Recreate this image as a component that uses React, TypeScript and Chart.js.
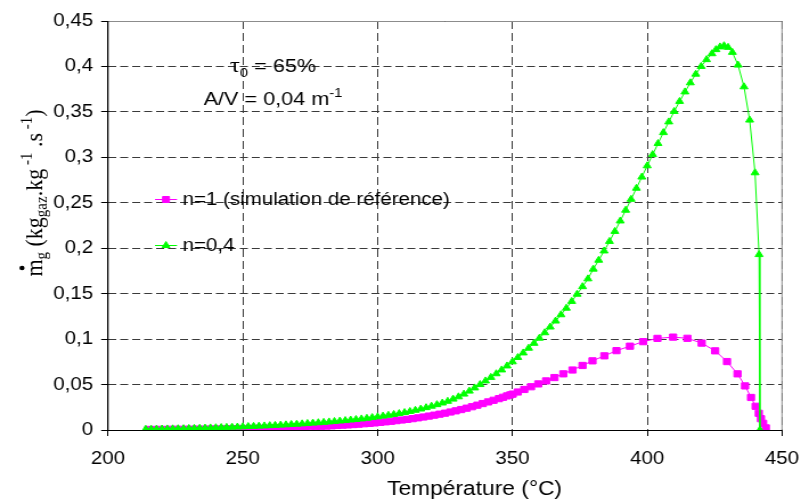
import { useEffect, useRef } from "react";
import { Chart, registerables } from "chart.js";

Chart.register(...registerables);

// ---- data ----
const tempRef = [
  215, 217, 219, 221, 223, 225, 227, 229, 231, 233, 235, 237, 239, 241, 243, 245, 247, 249,
  251, 253, 255, 257, 259, 261, 263, 265, 267, 269, 271, 273, 275, 277, 279, 281, 283, 285,
  287, 289, 291, 293, 295, 297, 299, 301, 303, 305, 307, 309, 311, 313, 315, 317, 319, 321,
  323, 325, 327, 329, 331, 333, 335, 337, 339, 341, 343, 345, 346.5, 348, 349.2,
  350.1, 352.0, 354.4, 356.9, 359.6, 362.5, 365.6, 368.9, 372.3, 376.0, 379.7, 384.1, 388.6,
  393.6, 398.5, 403.8, 409.6, 414.9, 420.2, 425.2, 429.6, 433.5, 436.3, 438.5, 440.2, 441.4,
  442.2, 443.0, 444.0,
];
const valRef = [
  0.0006, 0.0006, 0.0007, 0.0007, 0.0008, 0.0008, 0.0008, 0.0009, 0.0009, 0.0010, 0.0010, 0.0011,
  0.0012, 0.0012, 0.0013, 0.0014, 0.0015, 0.0016, 0.0016, 0.0018, 0.0019, 0.0020, 0.0021, 0.0023,
  0.0024, 0.0026, 0.0027, 0.0029, 0.0031, 0.0033, 0.0036, 0.0038, 0.0041, 0.0043, 0.0046, 0.0050,
  0.0053, 0.0056, 0.0060, 0.0064, 0.0069, 0.0073, 0.0078, 0.0084, 0.0090, 0.0096, 0.0103, 0.0110,
  0.0117, 0.0125, 0.0134, 0.0143, 0.0153, 0.0163, 0.0174, 0.0185, 0.0198, 0.0211, 0.0225, 0.0240,
  0.0256, 0.0273, 0.0291, 0.0309, 0.0327, 0.0345, 0.0360, 0.0375, 0.0386,
  0.0395, 0.0418, 0.0446, 0.0476, 0.0507, 0.0540, 0.0577, 0.0618, 0.0660, 0.0710, 0.0761, 0.0816,
  0.0873, 0.0922, 0.0972, 0.1008, 0.1022, 0.1009, 0.0956, 0.0871, 0.0753, 0.0618, 0.0485, 0.0358,
  0.0261, 0.0184, 0.0124, 0.0073, 0.0023,
];

const tempN04 = [
  214, 216, 218, 220, 222, 224, 226, 228, 230, 232, 234, 236, 238, 240, 242, 244, 246, 248,
  250, 252, 254, 256, 258, 260, 262, 264, 266, 268, 270, 272, 274, 276, 278, 280, 282, 284,
  286, 288, 290, 292, 294, 296, 298, 300, 302, 304, 306, 308, 310, 312, 314, 316, 318, 320,
  322, 324, 326, 328, 330, 332, 334, 336, 338, 340, 342, 344, 346, 348, 350, 352, 354, 356,
  358, 360, 362, 364, 366, 368, 370, 372, 374, 376, 378, 380, 382, 384, 386, 388, 390, 392,
  394, 396, 398, 400, 402, 404, 406, 408, 410, 412, 414, 416, 418, 420, 422, 424, 425.5, 427,
  428.5, 430, 431.6, 433.7, 435.9, 438.0, 440.0, 441.5, 441.8,
];
const valN04 = [
  0.0008, 0.0009, 0.0010, 0.0011, 0.0012, 0.0013, 0.0014, 0.0015, 0.0017, 0.0018, 0.0020, 0.0021,
  0.0023, 0.0025, 0.0027, 0.0029, 0.0031, 0.0033, 0.0035, 0.0038, 0.0040, 0.0043, 0.0045, 0.0048,
  0.0051, 0.0054, 0.0057, 0.0061, 0.0064, 0.0068, 0.0072, 0.0076, 0.0080, 0.0084, 0.0089, 0.0094,
  0.0099, 0.0104, 0.0110, 0.0116, 0.0122, 0.0129, 0.0137, 0.0145, 0.0153, 0.0162, 0.0171, 0.0181,
  0.0192, 0.0204, 0.0217, 0.0231, 0.0246, 0.0262, 0.0279, 0.0297, 0.0316, 0.0340, 0.0365, 0.0395,
  0.0428, 0.0463, 0.0500, 0.0540, 0.0579, 0.0619, 0.0661, 0.0705, 0.0750, 0.0798, 0.0848, 0.0900,
  0.0954, 0.1010, 0.1070, 0.1133, 0.1199, 0.1268, 0.1340, 0.1415, 0.1494, 0.1577, 0.1663, 0.1770,
  0.1868, 0.1970, 0.2075, 0.2185, 0.2300, 0.2418, 0.2538, 0.2660, 0.2783, 0.2907, 0.3030, 0.3152,
  0.3272, 0.3390, 0.3505, 0.3615, 0.3720, 0.3820, 0.3915, 0.4000, 0.4075, 0.4140, 0.4185, 0.4215,
  0.4228, 0.4210, 0.4155, 0.4015, 0.3776, 0.3410, 0.2830, 0.1930, 0.0000,
];

const xTickLabels = ["200", "250", "300", "350", "400", "450"];
const yTickLabels = ["0", "0,05", "0,1", "0,15", "0,2", "0,25", "0,3", "0,35", "0,4", "0,45"];
const seriesLabels = ["n=1 (simulation de référence)", "n=0,4"];
const xTitle = "Température (°C)";

// ---- layout ----
const OUT_W = 801;
const OUT_H = 499;
const CW = 703; // logical canvas width (stretched horizontally to OUT_W)
const SX = OUT_W / CW;
const L = (px: number) => px / SX; // screen x -> logical x

const MAGENTA = "#FF00FF";
const GREEN = "#00FF00";
const SANS = "'Liberation Sans', Arial, sans-serif";
const SERIF = "'Liberation Serif', 'Times New Roman', serif";

type Part = { t: string; size: number; dy: number; font?: string };

function drawParts(ctx: CanvasRenderingContext2D, parts: Part[], font: string, startX: number) {
  let x = startX;
  const pos: number[] = [];
  for (const p of parts) {
    ctx.font = `${p.size}px ${p.font || font}`;
    pos.push(x);
    ctx.fillText(p.t, x, p.dy);
    x += ctx.measureText(p.t).width;
  }
  return pos;
}
function partsWidth(ctx: CanvasRenderingContext2D, parts: Part[], font: string) {
  let w = 0;
  for (const p of parts) {
    ctx.font = `${p.size}px ${p.font || font}`;
    w += ctx.measureText(p.t).width;
  }
  return w;
}

function drawMarker(ctx: CanvasRenderingContext2D, kind: string, x: number, y: number, color: string) {
  ctx.fillStyle = color;
  ctx.strokeStyle = color;
  ctx.beginPath();
  if (kind === "rect") {
    const s = 3;
    ctx.rect(x - s, y - s, 2 * s, 2 * s);
  } else {
    const r = 4;
    ctx.moveTo(x, y - r);
    ctx.lineTo(x + r * 0.866, y + r * 0.5);
    ctx.lineTo(x - r * 0.866, y + r * 0.5);
    ctx.closePath();
  }
  ctx.fill();
  ctx.stroke();
}

const decorPlugin = {
  id: "decor",
  afterDraw(chart: any) {
    const ctx: CanvasRenderingContext2D = chart.ctx;
    const a = chart.chartArea;
    ctx.save();
    // plot frame
    ctx.lineWidth = 1;
    ctx.strokeStyle = "#8c8c8c";
    ctx.beginPath();
    ctx.moveTo(a.left, Math.round(a.top) + 0.5);
    ctx.lineTo(a.right, Math.round(a.top) + 0.5);
    ctx.lineTo(a.right, a.bottom);
    ctx.stroke();
    ctx.strokeStyle = "#000";
    ctx.beginPath();
    ctx.moveTo(a.left, Math.round(a.bottom) + 0.5);
    ctx.lineTo(a.right, Math.round(a.bottom) + 0.5);
    ctx.moveTo(a.left, a.top);
    ctx.lineTo(a.left, a.bottom);
    ctx.stroke();

    ctx.fillStyle = "#000";
    ctx.textBaseline = "alphabetic";

    // annotation
    const line1: Part[] = [
      { t: "τ", size: 22, dy: 0, font: SERIF },
      { t: "0", size: 13, dy: 5 },
      { t: " = 65%", size: 19, dy: 0 },
    ];
    const line2: Part[] = [
      { t: "A/V = 0,04 m", size: 19, dy: 0 },
      { t: "-1", size: 13, dy: -8 },
    ];
    const cx = L(273);
    ctx.save();
    ctx.translate(0, 72);
    drawParts(ctx, line1, SANS, cx - partsWidth(ctx, line1, SANS) / 2);
    ctx.restore();
    ctx.save();
    ctx.translate(0, 105);
    drawParts(ctx, line2, SANS, cx - partsWidth(ctx, line2, SANS) / 2);
    ctx.restore();

    // legend
    const items = [
      { label: seriesLabels[0], color: MAGENTA, kind: "rect", y: 199 },
      { label: seriesLabels[1], color: GREEN, kind: "tri", y: 245 },
    ];
    for (const it of items) {
      ctx.strokeStyle = it.color;
      ctx.lineWidth = 1;
      ctx.beginPath();
      ctx.moveTo(L(155), it.y + 0.5);
      ctx.lineTo(L(177), it.y + 0.5);
      ctx.stroke();
      drawMarker(ctx, it.kind, L(166), it.y + 0.5, it.color);
      ctx.fillStyle = "#000";
      ctx.font = `18px ${SANS}`;
      ctx.textBaseline = "middle";
      ctx.fillText(it.label, L(182.5), it.y + 1);
    }

    // x title
    ctx.textBaseline = "alphabetic";
    ctx.textAlign = "center";
    ctx.font = `20px ${SANS}`;
    ctx.fillText(xTitle, L(474.5), 495);
    ctx.textAlign = "left";

    // y title (rotated, with sub/superscripts)
    const yParts: Part[] = [
      { t: "m", size: 22, dy: 0 },
      { t: "g", size: 15, dy: 4 },
      { t: " (kg", size: 22, dy: 0 },
      { t: "gaz", size: 15, dy: 4 },
      { t: ".kg", size: 22, dy: 0 },
      { t: " -1", size: 15, dy: -9 },
      { t: " .s", size: 22, dy: 0 },
      { t: " -1", size: 15, dy: -9 },
      { t: ")", size: 22, dy: 0 },
    ];
    ctx.save();
    ctx.translate(L(42.5), 193);
    ctx.rotate(-Math.PI / 2);
    const w = partsWidth(ctx, yParts, SERIF);
    const pos = drawParts(ctx, yParts, SERIF, -w / 2);
    ctx.font = `22px ${SERIF}`;
    const mw = ctx.measureText("m").width;
    ctx.beginPath();
    ctx.arc(pos[0] + mw / 2, -18, 2.3, 0, Math.PI * 2);
    ctx.fill();
    ctx.restore();

    ctx.restore();
  },
};

export default function App() {
  const ref = useRef<HTMLCanvasElement | null>(null);
  useEffect(() => {
    document.body.style.margin = "0";
    const canvas = ref.current!;
    const chart = new Chart(canvas, {
      type: "scatter",
      data: {
        datasets: [
          {
            label: seriesLabels[0],
            data: tempRef.map((t, i) => ({ x: t, y: valRef[i] })),
            showLine: true,
            borderColor: MAGENTA,
            backgroundColor: MAGENTA,
            borderWidth: 1,
            pointStyle: "rect",
            pointRadius: 4.4,
            pointBorderWidth: 1,
            order: 1,
          },
          {
            label: seriesLabels[1],
            data: tempN04.map((t, i) => ({ x: t, y: valN04[i] })),
            showLine: true,
            borderColor: GREEN,
            backgroundColor: GREEN,
            borderWidth: 1,
            pointStyle: "triangle",
            pointRadius: 4,
            pointBorderWidth: 1,
            order: 0,
          },
        ],
      },
      options: {
        responsive: false,
        animation: false,
        devicePixelRatio: 1,
        layout: { padding: { left: 0, right: CW - L(782), top: 21, bottom: 0 } },
        plugins: { legend: { display: false }, tooltip: { enabled: false } },
        scales: {
          x: {
            type: "linear",
            min: 200,
            max: 450,
            afterFit: (s: any) => {
              s.height = OUT_H - 430;
              s.paddingLeft = 0;
              s.paddingRight = 0;
            },
            ticks: {
              stepSize: 50,
              color: "#000",
              font: { family: SANS, size: 18 },
              padding: 12,
              maxRotation: 0,
              callback: (_v: any, i: number) => xTickLabels[i],
            },
            grid: {
              color: "#3a3a3a",
              lineWidth: 1,
              tickLength: 6,
              tickColor: "#000",
            },
            border: { display: true, color: "#000", dash: [8, 4] },
          },
          y: {
            min: 0,
            max: 0.45,
            afterFit: (s: any) => {
              s.width = L(108);
              s.paddingTop = 0;
              s.paddingBottom = 0;
            },
            ticks: {
              stepSize: 0.05,
              color: "#000",
              font: { family: SANS, size: 18 },
              padding: 7,
              callback: (_v: any, i: number) => yTickLabels[i],
            },
            grid: {
              color: "#3a3a3a",
              lineWidth: 1,
              tickLength: 6,
              tickColor: "#000",
            },
            border: { display: true, color: "#000", dash: [7, 3.5] },
          },
        },
      },
      plugins: [decorPlugin],
    });
    return () => chart.destroy();
  }, []);
  return (
    <div style={{ position: "fixed", left: 0, top: 0, width: OUT_W, height: OUT_H, background: "#fff" }}>
      <canvas
        ref={ref}
        width={CW}
        height={OUT_H}
        style={{ width: OUT_W + "px", height: OUT_H + "px", display: "block" }}
      />
    </div>
  );
}
